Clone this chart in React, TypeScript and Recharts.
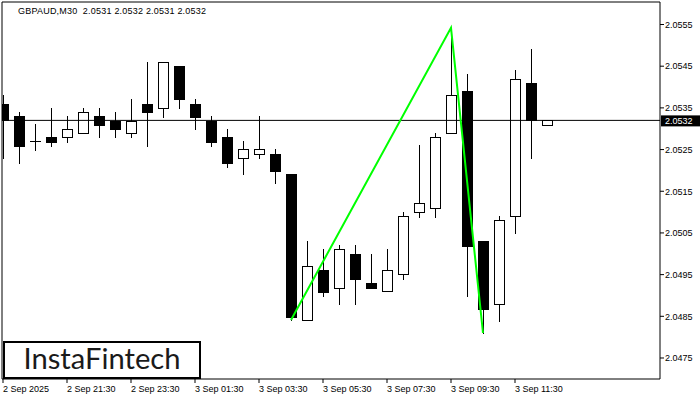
import React from 'react';
import { ComposedChart, Bar, Line, XAxis, YAxis, ReferenceLine } from 'recharts';

const opens = [2.05359, 2.0533, 2.0527, 2.0528, 2.0528, 2.0529, 2.0533, 2.05318, 2.0529, 2.05359, 2.0535, 2.0545, 2.05359, 2.05318, 2.0528, 2.0523, 2.05239, 2.05239, 2.05191, 2.04841, 2.04961, 2.04918, 2.04999, 2.0493, 2.0491, 2.04951, 2.051, 2.0511, 2.0529, 2.0539, 2.0503, 2.04879, 2.0509, 2.0541, 2.0531];
const highs = [2.05381, 2.0534, 2.05311, 2.0535, 2.0533, 2.0535, 2.0535, 2.0534, 2.05371, 2.0546, 2.0546, 2.0545, 2.05371, 2.0533, 2.05299, 2.0527, 2.0533, 2.05251, 2.05191, 2.0503, 2.05011, 2.05021, 2.05021, 2.04999, 2.05011, 2.051, 2.05261, 2.0529, 2.05542, 2.05431, 2.0503, 2.0509, 2.05441, 2.05491, 2.0532];
const lows = [2.0523, 2.05218, 2.05249, 2.05258, 2.05268, 2.0529, 2.0528, 2.0528, 2.0528, 2.05258, 2.05328, 2.0535, 2.05299, 2.05258, 2.05208, 2.05191, 2.0523, 2.0517, 2.04841, 2.04841, 2.04898, 2.04879, 2.04879, 2.04918, 2.0491, 2.04939, 2.05088, 2.05088, 2.0529, 2.04898, 2.0481, 2.04838, 2.0505, 2.0523, 2.0531];
const closes = [2.05321, 2.05258, 2.0527, 2.05268, 2.05299, 2.0534, 2.05309, 2.05299, 2.05318, 2.0534, 2.0546, 2.05371, 2.05328, 2.05268, 2.05218, 2.05251, 2.05251, 2.05198, 2.04848, 2.0497, 2.04908, 2.05011, 2.04939, 2.04918, 2.04961, 2.0509, 2.05122, 2.0528, 2.05381, 2.05018, 2.04867, 2.05081, 2.05419, 2.05321, 2.0532];

const zigzagIdx = [18, 28, 30];
const zigzagVals = [2.04841, 2.05542, 2.0481];

const xTickIdx = [0, 4, 8, 12, 16, 20, 24, 28, 32];
const xTickLabels = ['2 Sep 2025', '2 Sep 21:30', '2 Sep 23:30', '3 Sep 01:30', '3 Sep 03:30', '3 Sep 05:30', '3 Sep 07:30', '3 Sep 09:30', '3 Sep 11:30'];
const priceTicks = [2.0475, 2.0485, 2.0495, 2.0505, 2.0515, 2.0525, 2.0535, 2.0545, 2.0555];
const lastPrice = 2.0532;
const title = 'GBPAUD,M30  2.0531 2.0532 2.0531 2.0532';

const data = opens.map((o, i) => {
  const zi = zigzagIdx.indexOf(i);
  return {
    i,
    o,
    h: highs[i],
    l: lows[i],
    c: closes[i],
    range: [lows[i], highs[i]],
    zz: zi >= 0 ? zigzagVals[zi] : null,
  };
});

const FONT = '"Liberation Sans", Arial, sans-serif';

const Candle = (props: any) => {
  const { x, y, width, height, payload } = props;
  if (x == null || y == null) return null;
  const { o, h, l, c } = payload;
  const span = h - l;
  const ppu = span > 0 ? height / span : 0;
  const yOf = (p: number) => y + (h - p) * ppu;
  const col = Math.round(x + width / 2);
  const cx = col + 0.5;
  const yH = Math.round(yOf(h));
  const yL = Math.round(yOf(l));
  const T = Math.round(yOf(Math.max(o, c)));
  const B = Math.round(yOf(Math.min(o, c)));
  const bull = c > o;
  const els: any[] = [];
  els.push(<line key="w" x1={cx} x2={cx} y1={yH} y2={yL + 1} stroke="#000" strokeWidth={1} />);
  if (B - T < 1) {
    els.push(<line key="d" x1={col - 5} x2={col + 6} y1={T + 0.5} y2={T + 0.5} stroke="#000" strokeWidth={1} />);
  } else if (bull) {
    els.push(<rect key="b" x={col - 4.5} y={T + 0.5} width={10} height={B - T} fill="#fff" stroke="#000" strokeWidth={1} />);
  } else {
    els.push(<rect key="b" x={col - 5} y={T} width={11} height={B - T + 1} fill="#000" />);
  }
  return <g>{els}</g>;
};

const XTick = (props: any) => {
  const { x, payload } = props;
  const idx = xTickIdx.indexOf(payload.value);
  return (
    <text x={x} y={391.5} fontSize={9} fontFamily={FONT} fill="#000" textAnchor="start">
      {idx >= 0 ? xTickLabels[idx] : ''}
    </text>
  );
};

const YTick = (props: any) => {
  const { x, y, payload } = props;
  return (
    <text x={x} y={y + 3.3} fontSize={9} fontFamily={FONT} fill="#000" textAnchor="start">
      {Number(payload.value).toFixed(4)}
    </text>
  );
};

const PriceLabel = (props: any) => {
  const vb = props.viewBox || {};
  const px = (vb.x || 0) + (vb.width || 0) + 1;
  const py = vb.y || 0;
  return (
    <g>
      <rect x={px} y={py - 5} width={40} height={11} fill="#000" />
      <text x={px + 4} y={py + 3.3} fontSize={9} fontFamily={FONT} fill="#fff" textAnchor="start">
        {lastPrice.toFixed(4)}
      </text>
    </g>
  );
};

export default function App() {
  return (
    <div style={{ position: 'absolute', left: 0, top: 0, width: 700, height: 400, background: '#fff' }}>
      <ComposedChart width={700} height={400} data={data} margin={{ top: 2, right: 0, bottom: 0, left: 2 }}>
        <XAxis
          type="number"
          dataKey="i"
          domain={[-0.0625, 41.0625]}
          allowDataOverflow
          ticks={xTickIdx}
          tick={<XTick />}
          tickSize={4}
          height={21}
          axisLine={{ stroke: '#000' }}
          tickLine={{ stroke: '#000' }}
          interval={0}
        />
        <YAxis
          orientation="right"
          type="number"
          domain={[2.046996, 2.05604]}
          allowDataOverflow
          ticks={priceTicks}
          tick={<YTick />}
          tickSize={4}
          tickMargin={1}
          width={40}
          axisLine={{ stroke: '#000' }}
          tickLine={{ stroke: '#000' }}
          interval={0}
        />
        <ReferenceLine y={2.05604} stroke="#000" strokeWidth={1} ifOverflow="extendDomain" />
        <ReferenceLine x={-0.0625} stroke="#000" strokeWidth={1} />
        <ReferenceLine y={lastPrice} stroke="#000" strokeWidth={1} label={<PriceLabel />} />
        <Bar dataKey="range" shape={<Candle />} isAnimationActive={false} barSize={11} />
        <Line dataKey="zz" stroke="#00FF00" strokeWidth={2} dot={false} connectNulls isAnimationActive={false} />
      </ComposedChart>
      <svg width={700} height={400} style={{ position: 'absolute', left: 0, top: 0, pointerEvents: 'none' }}>
        <text x={18} y={14} fontSize={9} fontFamily={FONT} fill="#000" xmlSpace="preserve" textLength={188} lengthAdjust="spacing">{title}</text>
        <rect x={4} y={342} width={196} height={36} fill="#fff" stroke="#000" strokeWidth={2} />
        <text x={102} y={369} fontSize={28} fontFamily="Lato, 'Open Sans', sans-serif" fontWeight={400} fill="#1a1a1a" textAnchor="middle" textLength={157} lengthAdjust="spacingAndGlyphs">InstaFintech</text>
      </svg>
    </div>
  );
}
